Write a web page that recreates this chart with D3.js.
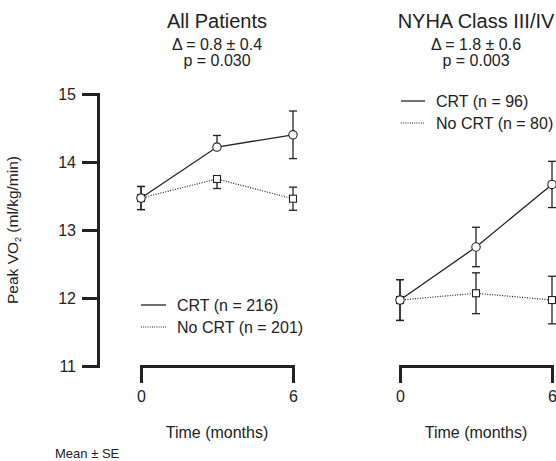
<!DOCTYPE html>
<html>
<head>
<meta charset="utf-8">
<script src="https://cdn.jsdelivr.net/npm/d3@7"></script>
<style>
  html, body { margin: 0; padding: 0; background: #fff; }
  svg { display: block; font-family: "Liberation Sans", Arial, Helvetica, sans-serif; }
</style>
</head>
<body>
<svg id="chart" width="556" height="461"></svg>
<script>
// Peak VO2 over follow-up, CRT vs no CRT (mean ± SE)
const months = [0, 3, 6];
const xTicks = [0, 6];
const yTicks = [11, 12, 13, 14, 15];

const panelTitles = ["All Patients", "NYHA Class III/IV"];
const panelDelta = ["\u0394 = 0.8 \u00b1 0.4", "\u0394 = 1.8 \u00b1 0.6"];
const panelP = ["p = 0.030", "p = 0.003"];
const crtLegend = ["CRT (n = 216)", "CRT (n = 96)"];
const noCrtLegend = ["No CRT (n = 201)", "No CRT (n = 80)"];

// All patients
const allCrtMean = [13.47, 14.22, 14.40];
const allCrtSE = [0.17, 0.17, 0.35];
const allNoCrtMean = [13.47, 13.75, 13.46];
const allNoCrtSE = [0.17, 0.14, 0.17];
// which side of each error bar is drawn
const allCrtSides = ["both", "up", "both"];
const allNoCrtSides = ["both", "down", "both"];

// NYHA class III/IV
const nyhaCrtMean = [11.97, 12.75, 13.67];
const nyhaCrtSE = [0.30, 0.29, 0.34];
const nyhaNoCrtMean = [11.97, 12.07, 11.97];
const nyhaNoCrtSE = [0.30, 0.30, 0.35];
const nyhaCrtSides = ["both", "both", "both"];
const nyhaNoCrtSides = ["both", "both", "both"];

const panels = [
  { crt: allCrtMean, crtSE: allCrtSE, crtSides: allCrtSides,
    no: allNoCrtMean, noSE: allNoCrtSE, noSides: allNoCrtSides,
    x0: 141, x1: 293, legend: { x: 141, y: 305, len: 25 } },
  { crt: nyhaCrtMean, crtSE: nyhaCrtSE, crtSides: nyhaCrtSides,
    no: nyhaNoCrtMean, noSE: nyhaNoCrtSE, noSides: nyhaNoCrtSides,
    x0: 400, x1: 552, legend: { x: 401, y: 101, len: 24 } }
];

const ink = "#222";
const svg = d3.select("#chart");

const y = d3.scaleLinear().domain([11, 15]).range([366, 94]);

// shared y axis
const yAxis = svg.append("g")
  .attr("transform", "translate(98,0)")
  .call(d3.axisLeft(y).tickValues(yTicks).tickSize(16).tickSizeOuter(16).tickPadding(6).tickFormat(d3.format("d")));
yAxis.select(".domain").attr("stroke", ink).attr("stroke-width", 3).attr("fill", "none");
yAxis.selectAll(".tick line").attr("stroke", ink).attr("stroke-width", 3);
yAxis.selectAll(".tick text").attr("fill", ink).style("font-size", "16px");

// y axis title with subscript
const yTitle = svg.append("text")
  .attr("transform", "translate(18,230) rotate(-90)")
  .attr("text-anchor", "middle")
  .attr("fill", ink)
  .style("font-size", "15.5px");
yTitle.append("tspan").text("Peak VO");
yTitle.append("tspan").text("2").style("font-size", "9px").attr("dy", 3);
yTitle.append("tspan").text(" (ml/kg/min)").attr("dy", -3);

panels.forEach((p, i) => {
  const x = d3.scaleLinear().domain([0, 6]).range([p.x0, p.x1]);
  const cx = (p.x0 + p.x1) / 2;
  const g = svg.append("g");

  // headings
  g.append("text").attr("x", cx).attr("y", 28).attr("text-anchor", "middle")
    .attr("fill", ink).style("font-size", "20px").text(panelTitles[i]);
  g.append("text").attr("x", cx).attr("y", 50).attr("text-anchor", "middle")
    .attr("fill", ink).style("font-size", "16px").text(panelDelta[i]);
  g.append("text").attr("x", cx).attr("y", 66).attr("text-anchor", "middle")
    .attr("fill", ink).style("font-size", "16px").text(panelP[i]);

  // x axis bracket
  const xAxis = g.append("g")
    .attr("transform", "translate(0,366)")
    .call(d3.axisBottom(x).tickValues(xTicks).tickSize(17).tickSizeOuter(17).tickPadding(8).tickFormat(d3.format("d")));
  xAxis.select(".domain").attr("stroke", ink).attr("stroke-width", 3).attr("fill", "none");
  xAxis.selectAll(".tick line").attr("stroke", ink).attr("stroke-width", 3);
  xAxis.selectAll(".tick text").attr("fill", ink).style("font-size", "16px");
  g.append("text").attr("x", cx).attr("y", 438).attr("text-anchor", "middle")
    .attr("fill", ink).style("font-size", "16px").text("Time (months)");

  const line = d3.line().x((d, j) => x(months[j])).y(d => y(d));

  function errorBars(means, ses, sides) {
    means.forEach((m, j) => {
      const xx = x(months[j]);
      const top = sides[j] === "down" ? y(m) : y(m + ses[j]);
      const bot = sides[j] === "up" ? y(m) : y(m - ses[j]);
      g.append("line").attr("x1", xx).attr("x2", xx).attr("y1", top).attr("y2", bot)
        .attr("stroke", ink).attr("stroke-width", 1.3);
      if (sides[j] !== "down")
        g.append("line").attr("x1", xx - 4).attr("x2", xx + 4).attr("y1", top).attr("y2", top)
          .attr("stroke", ink).attr("stroke-width", 1.3);
      if (sides[j] !== "up")
        g.append("line").attr("x1", xx - 4).attr("x2", xx + 4).attr("y1", bot).attr("y2", bot)
          .attr("stroke", ink).attr("stroke-width", 1.3);
    });
  }

  // No CRT: dotted line, square markers
  errorBars(p.no, p.noSE, p.noSides);
  g.append("path").datum(p.no).attr("d", line).attr("fill", "none")
    .attr("stroke", ink).attr("stroke-width", 1.2).attr("stroke-dasharray", "1,1.5");
  g.selectAll(".sq").data(p.no).enter().append("rect")
    .attr("x", (d, j) => x(months[j]) - 3.5).attr("y", d => y(d) - 3.5)
    .attr("width", 7).attr("height", 7)
    .attr("fill", "#fff").attr("stroke", ink).attr("stroke-width", 1.1);

  // CRT: solid line, circle markers
  errorBars(p.crt, p.crtSE, p.crtSides);
  g.append("path").datum(p.crt).attr("d", line).attr("fill", "none")
    .attr("stroke", ink).attr("stroke-width", 1.3);
  g.selectAll(".ci").data(p.crt).enter().append("circle")
    .attr("cx", (d, j) => x(months[j])).attr("cy", d => y(d)).attr("r", 4.2)
    .attr("fill", "#fff").attr("stroke", ink).attr("stroke-width", 1.1);

  // legend
  const L = p.legend;
  g.append("line").attr("x1", L.x).attr("x2", L.x + L.len).attr("y1", L.y).attr("y2", L.y)
    .attr("stroke", ink).attr("stroke-width", 1.3);
  g.append("text").attr("x", L.x + L.len + 11).attr("y", L.y).attr("dy", "0.35em")
    .attr("fill", ink).style("font-size", "16px").text(crtLegend[i]);
  g.append("line").attr("x1", L.x).attr("x2", L.x + L.len).attr("y1", L.y + 22).attr("y2", L.y + 22)
    .attr("stroke", ink).attr("stroke-width", 1.1).attr("stroke-dasharray", "1,1.2");
  g.append("text").attr("x", L.x + L.len + 11).attr("y", L.y + 22).attr("dy", "0.35em")
    .attr("fill", ink).style("font-size", "16px").text(noCrtLegend[i]);
});

svg.append("text").attr("x", 55).attr("y", 458).attr("fill", ink)
  .style("font-size", "13px").text("Mean \u00b1 SE");
</script>
</body>
</html>
